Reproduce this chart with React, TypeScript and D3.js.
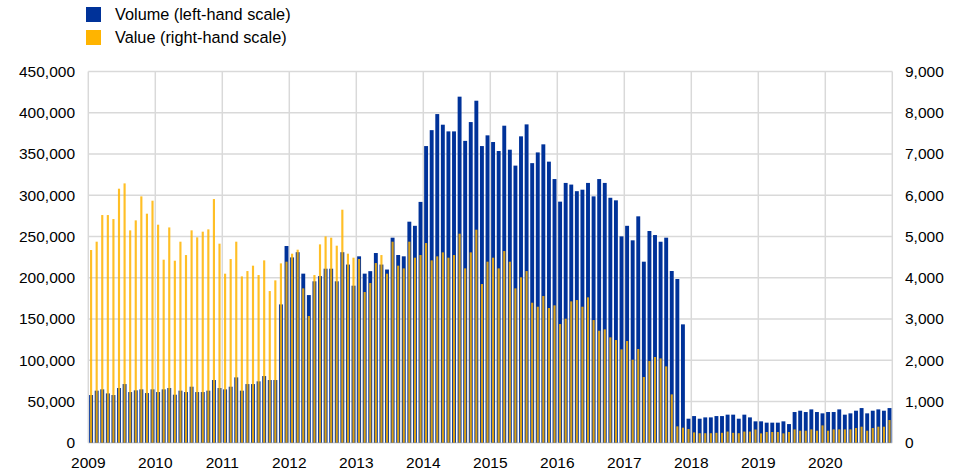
import React from "react";
import * as d3 from "d3";

const years = ["2009", "2010", "2011", "2012", "2013", "2014", "2015", "2016", "2017", "2018", "2019", "2020"];

const volume2009 = [57800, 63100, 64700, 59800, 57800, 66300, 71100, 61400, 63500, 64700, 60200, 64700];
const volume2010 = [61400, 64700, 66300, 58200, 63100, 61400, 67900, 61400, 61400, 63100, 76000, 66300];
const volume2011 = [64700, 67900, 79200, 63100, 71100, 71100, 74400, 80800, 76000, 76000, 167700, 238500];
const volume2012 = [224700, 231000, 205000, 179000, 195700, 202000, 211000, 211000, 195700, 231000, 216000, 190400];
const volume2013 = [226000, 205000, 208000, 230000, 216000, 210000, 248600, 227600, 226000, 268000, 263000, 292000];
const volume2014 = [359700, 379000, 398500, 385600, 377500, 377500, 419600, 366000, 388800, 414700, 359700, 372700];
const volume2015 = [364600, 353700, 384400, 355300, 336000, 371500, 386000, 339000, 352000, 361800, 340800, 319700];
const volume2016 = [292300, 315000, 313000, 305000, 306800, 315000, 298700, 319700, 315000, 297000, 293900, 250200];
const volume2017 = [263000, 245400, 274500, 219500, 256700, 251800, 243700, 248600, 208200, 198500, 143500, 29100];
const volume2018 = [32300, 29100, 30700, 30700, 32300, 32300, 34000, 34000, 29100, 34000, 30700, 25900];
const volume2019 = [25900, 24300, 24300, 24300, 25900, 22600, 37200, 38800, 37200, 40400, 37200, 35600];
const volume2020 = [37200, 37200, 40400, 34000, 35600, 38800, 42000, 35600, 38800, 40400, 38800, 42000];

const value2009 = [4673, 4875, 5521, 5521, 5424, 6160, 6289, 5150, 5392, 5974, 5554, 5869];
const value2010 = [5287, 4438, 5221, 4414, 4875, 4551, 5150, 4980, 5118, 5174, 5909, 4827];
const value2011 = [4099, 4454, 4875, 4034, 4163, 4293, 4066, 4422, 3678, 3937, 4349, 4390];
const value2012 = [4584, 4681, 3743, 3072, 4066, 4810, 5004, 4972, 4778, 5651, 4584, 4487];
const value2013 = [4454, 3654, 3872, 4357, 4551, 4099, 4875, 4293, 4228, 4875, 4487, 4551];
const value2014 = [4842, 4422, 4519, 4616, 4487, 4551, 5069, 4228, 4616, 5166, 3848, 4390];
const value2015 = [4487, 4228, 4648, 4390, 3743, 4010, 4163, 3395, 3298, 3557, 3266, 3331];
const value2016 = [2878, 3007, 3428, 3460, 3298, 3525, 2975, 2716, 2749, 2555, 2490, 2264];
const value2017 = [2466, 2013, 2272, 1593, 1981, 2078, 2045, 1851, 1172, 396, 364, 331];
const value2018 = [250, 230, 230, 230, 240, 240, 270, 240, 230, 270, 270, 320];
const value2019 = [226, 259, 259, 259, 226, 259, 323, 291, 291, 323, 291, 420];
const value2020 = [291, 323, 323, 323, 323, 356, 388, 291, 356, 388, 388, 550];

const leftTicks = [0, 50000, 100000, 150000, 200000, 250000, 300000, 350000, 400000, 450000];
const rightTicks = [0, 1000, 2000, 3000, 4000, 5000, 6000, 7000, 8000, 9000];
const legendLabels = ["Volume (left-hand scale)", "Value (right-hand scale)"];

const volume = [
  ...volume2009, ...volume2010, ...volume2011, ...volume2012, ...volume2013, ...volume2014,
  ...volume2015, ...volume2016, ...volume2017, ...volume2018, ...volume2019, ...volume2020,
];
const value = [
  ...value2009, ...value2010, ...value2011, ...value2012, ...value2013, ...value2014,
  ...value2015, ...value2016, ...value2017, ...value2018, ...value2019, ...value2020,
];

const W = 957;
const H = 472;
const X0 = 88.3;
const X1 = 892.3;
const YB = 442.7;
const YT = 71.6;
const BLUE = "#003299";
const YELLOW = "#FFB400";
const GRID = "#d9d9d9";
const FONT = "'Liberation Sans', Arial, sans-serif";
const FS = 15.5;
const LFS = 16.3;

export default function App() {
  const months = volume.map((_, i) => i);
  const x = d3.scaleBand<number>().domain(months).range([X0, X1]).paddingInner(0.3).paddingOuter(0.15);
  const yL = d3.scaleLinear().domain([0, 450000]).range([YB, YT]);
  const yR = d3.scaleLinear().domain([0, 9000]).range([YB, YT]);
  const yearX = d3.scaleLinear().domain([0, years.length]).range([X0, X1]);
  const fmt = d3.format(",");
  const bw = x.bandwidth();
  const yw = bw * 0.55;

  return (
    <svg width={W} height={H} style={{ position: "absolute", left: 0, top: 0, background: "#fff" }} fontFamily={FONT}>
      {leftTicks.map((t) => (
        <line key={"h" + t} x1={X0} x2={X1} y1={yL(t)} y2={yL(t)} stroke={GRID} strokeWidth={1.5} />
      ))}
      {d3.range(years.length + 1).map((i) => (
        <line key={"v" + i} x1={yearX(i)} x2={yearX(i)} y1={YT} y2={YB} stroke={GRID} strokeWidth={1.5} />
      ))}
      {months.map((i) => (
        <rect key={"b" + i} x={x(i)} y={yL(volume[i])} width={bw} height={YB - yL(volume[i])} fill={BLUE} />
      ))}
      {months.map((i) => (
        <rect
          key={"y" + i}
          x={(x(i) as number) + (bw - yw) / 2}
          y={yR(value[i])}
          width={yw}
          height={YB - yR(value[i])}
          fill={YELLOW}
          fillOpacity={0.85}
        />
      ))}
      {leftTicks.map((t) => (
        <text key={"l" + t} x={75} y={yL(t)} dy="0.35em" textAnchor="end" fontSize={FS} fill="#000">
          {fmt(t)}
        </text>
      ))}
      {rightTicks.map((t) => (
        <text key={"r" + t} x={905} y={yR(t)} dy="0.35em" textAnchor="start" fontSize={FS} fill="#000">
          {fmt(t)}
        </text>
      ))}
      {years.map((yr, i) => (
        <text key={yr} x={yearX(i)} y={463} dy="0.35em" textAnchor="middle" fontSize={FS} fill="#000">
          {yr}
        </text>
      ))}
      <rect x={86} y={7} width={15} height={15} fill={BLUE} />
      <text x={115} y={14.5} dy="0.35em" fontSize={LFS} fill="#000">{legendLabels[0]}</text>
      <rect x={86} y={30} width={15} height={15} fill={YELLOW} />
      <text x={115} y={37.5} dy="0.35em" fontSize={LFS} fill="#000">{legendLabels[1]}</text>
    </svg>
  );
}
